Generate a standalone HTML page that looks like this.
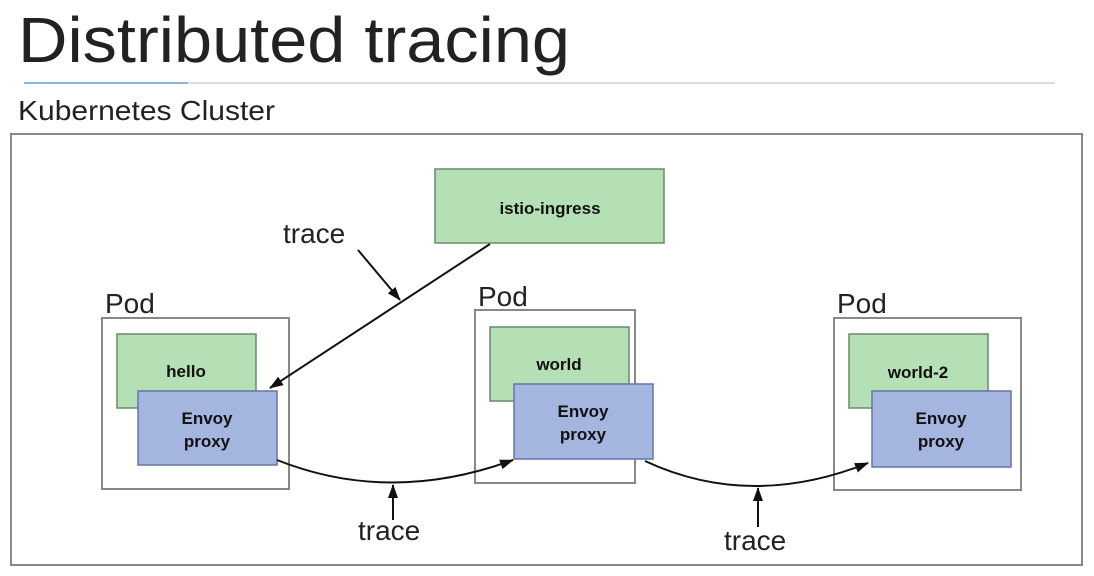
<!DOCTYPE html>
<html><head><meta charset="utf-8"><style>
html,body{margin:0;padding:0;background:#fff;}
svg{display:block;}
.t{font-family:"Liberation Sans",sans-serif;fill:#222;}
.b{font-family:"Liberation Sans",sans-serif;font-weight:bold;fill:#111;font-size:17px;text-anchor:middle;}
</style></head><body>
<svg width="1094" height="576" viewBox="0 0 1094 576" xmlns="http://www.w3.org/2000/svg">
<defs><marker id="a" markerWidth="14" markerHeight="12" refX="13" refY="6" orient="auto" markerUnits="userSpaceOnUse"><path d="M0,1 L14,6 L0,11 z" fill="#111"/></marker></defs>
<text x="18" y="62" class="t" font-size="64" textLength="552" lengthAdjust="spacingAndGlyphs">Distributed tracing</text>
<line x1="24" y1="83" x2="1055" y2="83" stroke="#ddd" stroke-width="2"/>
<line x1="24" y1="83" x2="188" y2="83" stroke="#8fb3e0" stroke-width="2"/>
<text x="18" y="120" class="t" font-size="28" textLength="257" lengthAdjust="spacingAndGlyphs">Kubernetes Cluster</text>
<rect x="11" y="134" width="1071" height="431" fill="none" stroke="#888" stroke-width="2"/>
<rect x="435" y="169" width="229" height="74" fill="#b5dfb5" stroke="#6a8a6a" stroke-width="1.5"/>
<text x="550" y="214" class="b">istio-ingress</text>
<text x="105" y="313" class="t" font-size="28">Pod</text>
<rect x="102" y="318" width="187" height="171" fill="none" stroke="#888" stroke-width="2"/>
<rect x="117" y="334" width="139" height="74" fill="#b5dfb5" stroke="#6a8a6a" stroke-width="1.5"/>
<text x="186" y="377" class="b">hello</text>
<rect x="138" y="391" width="139" height="74" fill="#a4b5e0" stroke="#6575a5" stroke-width="1.5"/>
<text x="207" y="424" class="b">Envoy</text><text x="207" y="447" class="b">proxy</text>
<text x="478" y="306" class="t" font-size="28">Pod</text>
<rect x="475" y="310" width="160" height="173" fill="none" stroke="#888" stroke-width="2"/>
<rect x="490" y="327" width="139" height="74" fill="#b5dfb5" stroke="#6a8a6a" stroke-width="1.5"/>
<text x="559" y="370" class="b">world</text>
<rect x="514" y="384" width="139" height="75" fill="#a4b5e0" stroke="#6575a5" stroke-width="1.5"/>
<text x="583" y="417" class="b">Envoy</text><text x="583" y="440" class="b">proxy</text>
<text x="837" y="313" class="t" font-size="28">Pod</text>
<rect x="834" y="318" width="187" height="172" fill="none" stroke="#888" stroke-width="2"/>
<rect x="849" y="334" width="139" height="74" fill="#b5dfb5" stroke="#6a8a6a" stroke-width="1.5"/>
<text x="918" y="378" class="b">world-2</text>
<rect x="872" y="391" width="139" height="76" fill="#a4b5e0" stroke="#6575a5" stroke-width="1.5"/>
<text x="941" y="424" class="b">Envoy</text><text x="941" y="447" class="b">proxy</text>
<text x="283" y="243" class="t" font-size="28">trace</text>
<line x1="358" y1="250" x2="400" y2="300" stroke="#111" stroke-width="2" marker-end="url(#a)"/>
<line x1="490" y1="244" x2="270" y2="388" stroke="#111" stroke-width="2" marker-end="url(#a)"/>
<path d="M277,460 Q390,505 513,460" fill="none" stroke="#111" stroke-width="2" marker-end="url(#a)"/>
<line x1="393" y1="520" x2="393" y2="485" stroke="#111" stroke-width="2" marker-end="url(#a)"/>
<text x="358" y="540" class="t" font-size="28">trace</text>
<path d="M645,461 Q750,510 868,463" fill="none" stroke="#111" stroke-width="2" marker-end="url(#a)"/>
<line x1="758" y1="527" x2="758" y2="488" stroke="#111" stroke-width="2" marker-end="url(#a)"/>
<text x="724" y="550" class="t" font-size="28">trace</text>
</svg>
</body></html>
